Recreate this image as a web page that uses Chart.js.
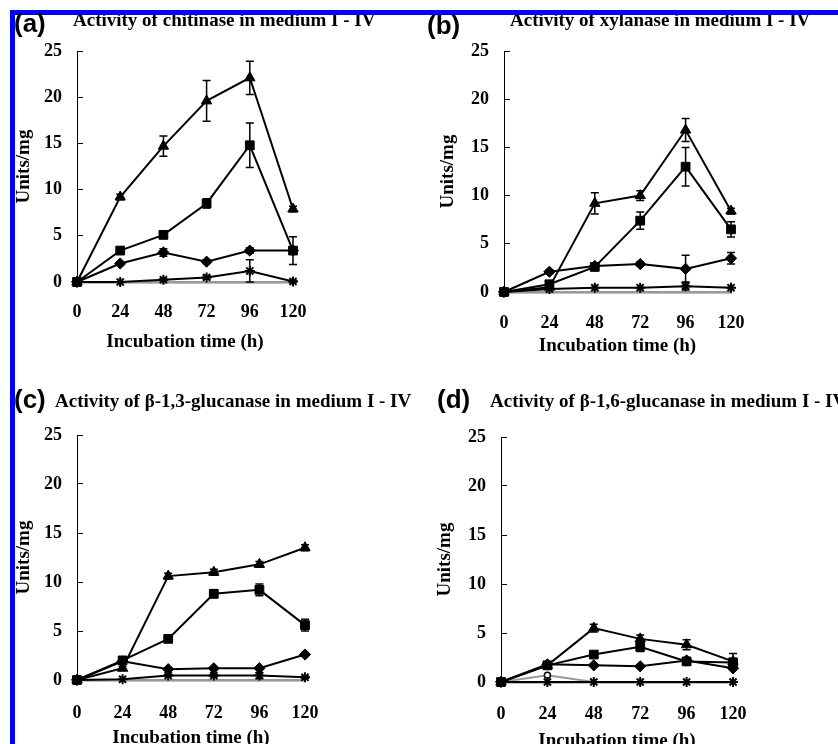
<!DOCTYPE html>
<html>
<head>
<meta charset="utf-8">
<script src="https://cdn.jsdelivr.net/npm/chart.js@4.4.0/dist/chart.umd.min.js"></script>
<style>
  body { margin: 0; width: 838px; height: 744px; overflow: hidden; background: #fff; position: relative; }
  canvas { position: absolute; }
  .tag { position: absolute; font: bold 26px "Liberation Sans", Arial, sans-serif; line-height: 1; color: #000; z-index: 3; }
  .ttl { position: absolute; font: bold 19px "Liberation Serif", "Times New Roman", serif; line-height: 1; white-space: nowrap; color: #000; z-index: 1; }
  .blue { position: absolute; background: #0000ff; z-index: 2; }
  #mask { position: absolute; left: 0; top: 0; width: 838px; height: 10px; background: #fff; z-index: 4; }
</style>
</head>
<body>
<canvas id="chartA" width="419" height="372" style="left:0;top:0"></canvas>
<canvas id="chartB" width="419" height="372" style="left:419px;top:0"></canvas>
<canvas id="chartC" width="419" height="400" style="left:0;top:372px"></canvas>
<canvas id="chartD" width="419" height="400" style="left:419px;top:372px"></canvas>

<div class="tag" style="left:14px;top:10px">(a)</div>
<div class="ttl" style="left:73px;top:10px">Activity of chitinase in medium I - IV</div>
<div class="tag" style="left:427px;top:12px">(b)</div>
<div class="ttl" style="left:510px;top:10px">Activity of xylanase in medium I - IV</div>
<div class="tag" style="left:14px;top:386px">(c)</div>
<div class="ttl" style="left:55px;top:391px">Activity of β-1,3-glucanase in medium I - IV</div>
<div class="tag" style="left:437px;top:386px">(d)</div>
<div class="ttl" style="left:490px;top:391px">Activity of β-1,6-glucanase in medium I - IV</div>

<div class="blue" style="left:10px;top:10px;width:828px;height:5px"></div>
<div class="blue" style="left:10px;top:10px;width:5px;height:734px"></div>
<div id="mask"></div>

<script>
// Tiempos de incubación y marcas del eje Y
const hours = [0, 24, 48, 72, 96, 120];
const yTicks = [0, 5, 10, 15, 20, 25];

// (a) quitinasa
const chitTri = [0, 9.2, 14.7, 19.6, 22.1, 7.9];
const chitTriErr = [0, 0.3, 1.1, 2.2, 1.8, 0.3];
const chitSq = [0, 3.4, 5.1, 8.5, 14.8, 3.4];
const chitSqErr = [0, 0.2, 0.2, 0.5, 2.4, 1.5];
const chitDia = [0, 2.0, 3.2, 2.2, 3.4, 3.4];
const chitDiaErr = [0, 0.2, 0.4, 0.2, 0.3, 0.3];
const chitStar = [0, 0, 0.25, 0.5, 1.2, 0.05];
const chitStarErr = [0, 0, 0.1, 0.2, 1.2, 0.1];
const chitCtrl = [0, 0, 0, 0, 0, 0];

// (b) xilanasa
const xylTri = [0, 0.5, 9.2, 10.0, 16.8, 8.4];
const xylTriErr = [0, 0.1, 1.1, 0.5, 1.2, 0.3];
const xylSq = [0, 0.8, 2.6, 7.4, 13.0, 6.5];
const xylSqErr = [0, 0.2, 0.3, 0.9, 2.0, 0.8];
const xylDia = [0, 2.1, 2.7, 2.9, 2.4, 3.5];
const xylDiaErr = [0, 0.2, 0.2, 0.2, 1.4, 0.6];
const xylStar = [0, 0.3, 0.45, 0.45, 0.6, 0.45];
const xylStarErr = [0, 0, 0, 0, 0.4, 0];
const xylCtrl = [0, 0, 0, 0, 0, 0];

// (c) beta-1,3-glucanasa
const g13Tri = [0, 1.2, 10.6, 11.0, 11.8, 13.5];
const g13TriErr = [0, 0.2, 0.3, 0.3, 0.3, 0.3];
const g13Sq = [0, 2.0, 4.2, 8.8, 9.2, 5.6];
const g13SqErr = [0, 0.2, 0.2, 0.4, 0.6, 0.6];
const g13Dia = [0, 1.9, 1.1, 1.2, 1.2, 2.6];
const g13DiaErr = [0, 0.1, 0.1, 0.1, 0.1, 0.2];
const g13Star = [0, 0.07, 0.45, 0.45, 0.45, 0.27];
const g13StarErr = [0, 0, 0.1, 0.1, 0.3, 0.1];
const g13Ctrl = [0, 0, 0, 0, 0, 0];

// (d) beta-1,6-glucanasa
const g16Tri = [0, 1.7, 5.5, 4.4, 3.8, 2.1];
const g16TriErr = [0, 0.3, 0.4, 0.4, 0.5, 0.8];
const g16Sq = [0, 1.7, 2.8, 3.6, 2.1, 2.0];
const g16SqErr = [0, 0.2, 0.2, 0.5, 0.3, 0.4];
const g16Dia = [0, 1.8, 1.7, 1.6, 2.2, 1.4];
const g16DiaErr = [0, 0.2, 0.1, 0.1, 0.2, 0.2];
const g16Star = [0, 0, 0, 0, 0, 0];
const g16StarErr = [0, 0, 0, 0, 0, 0];
const g16Ctrl = [0, 0.7, 0, 0, 0, 0];

const serif = "'Liberation Serif', 'Times New Roman', serif";

// Barras de error dibujadas con las escalas del gráfico
const errorBars = {
  id: "errorBars",
  afterDatasetsDraw(chart) {
    const ctx = chart.ctx;
    const xs = chart.scales.x;
    const ys = chart.scales.y;
    ctx.save();
    ctx.strokeStyle = "#000";
    ctx.lineWidth = 1.5;
    chart.data.datasets.forEach((ds) => {
      if (!ds.errors) return;
      ds.data.forEach((p, i) => {
        const e = ds.errors[i];
        if (!e) return;
        const x = xs.getPixelForValue(p.x);
        const y1 = ys.getPixelForValue(p.y + e);
        const y2 = ys.getPixelForValue(Math.max(p.y - e, 0));
        ctx.beginPath();
        ctx.moveTo(x, y1);
        ctx.lineTo(x, y2);
        ctx.moveTo(x - 4, y1);
        ctx.lineTo(x + 4, y1);
        ctx.moveTo(x - 4, y2);
        ctx.lineTo(x + 4, y2);
        ctx.stroke();
      });
    });
    ctx.restore();
  },
};

function series(values, errors, style, radius) {
  return {
    data: values.map((v, i) => ({ x: hours[i], y: v })),
    errors: errors,
    borderColor: "#000",
    backgroundColor: "#000",
    borderWidth: 2,
    pointStyle: style,
    pointRadius: radius,
    pointBorderWidth: style === "star" ? 2 : 1,
    pointBackgroundColor: "#000",
    pointBorderColor: "#000",
    tension: 0,
    clip: false,
  };
}

function ctrlSeries(values) {
  return {
    data: values.map((v, i) => ({ x: hours[i], y: v })),
    borderColor: "#999",
    borderWidth: 2,
    pointStyle: "circle",
    pointRadius: (c) => (c.raw && c.raw.y > 0 ? 3 : 0),
    pointBackgroundColor: "#fff",
    pointBorderColor: "#000",
    pointBorderWidth: 1.5,
    tension: 0,
    clip: false,
  };
}

// Crear un panel: area = posición del área de trazado dentro del canvas
function makePanel(id, sets, area) {
  const canvas = document.getElementById(id);
  const W = canvas.width;
  const H = canvas.height;
  return new Chart(canvas, {
    type: "line",
    data: { datasets: sets },
    plugins: [errorBars],
    options: {
      responsive: false,
      animation: false,
      layout: { padding: { left: 0, top: area.top, right: W - area.right, bottom: 0 } },
      plugins: { legend: { display: false }, tooltip: { enabled: false } },
      scales: {
        x: {
          type: "linear",
          min: 0,
          max: 120,
          afterBuildTicks: (s) => { s.ticks = hours.map((v) => ({ value: v })); },
          afterFit: (s) => { s.height = H - area.bottom; },
          grid: { display: true, drawOnChartArea: false, drawTicks: false },
          border: { color: "#808080", width: 2.5 },
          ticks: {
            color: "#000",
            font: { family: serif, size: 18, weight: "bold" },
            padding: area.xPad,
            maxRotation: 0,
            autoSkip: false,
          },
          title: {
            display: true,
            text: "Incubation time (h)",
            color: "#000",
            font: { family: serif, size: 19, weight: "bold" },
            padding: { top: 0, bottom: area.xTitlePad },
          },
        },
        y: {
          min: 0,
          max: 25,
          afterBuildTicks: (s) => { s.ticks = yTicks.map((v) => ({ value: v })); },
          afterFit: (s) => { s.width = area.left; },
          grid: { drawOnChartArea: false, drawTicks: true, tickLength: -6, color: "#000", lineWidth: 1 },
          border: { color: "#000", width: 1 },
          ticks: {
            color: "#000",
            font: { family: serif, size: 18, weight: "bold" },
            padding: 21,
          },
          title: {
            display: true,
            text: "Units/mg",
            color: "#000",
            font: { family: serif, size: 19, weight: "bold" },
            padding: { top: area.yTitlePad, bottom: 0 },
          },
        },
      },
    },
  });
}

makePanel("chartA", [
  series(chitTri, chitTriErr, "triangle", 6),
  series(chitSq, chitSqErr, "rect", 6.2),
  series(chitDia, chitDiaErr, "rectRot", 5.6),
  series(chitStar, chitStarErr, "star", 5),
  ctrlSeries(chitCtrl),
], { left: 77, right: 293, top: 51, bottom: 282, xPad: 20, xTitlePad: 18.6, yTitlePad: 12.6 });

makePanel("chartB", [
  series(xylTri, xylTriErr, "triangle", 6),
  series(xylSq, xylSqErr, "rect", 6.2),
  series(xylDia, xylDiaErr, "rectRot", 5.6),
  series(xylStar, xylStarErr, "star", 5),
  ctrlSeries(xylCtrl),
], { left: 85, right: 312, top: 51, bottom: 292, xPad: 20.5, xTitlePad: 14.1, yTitlePad: 17.6 });

makePanel("chartC", [
  series(g13Tri, g13TriErr, "triangle", 6),
  series(g13Sq, g13SqErr, "rect", 6.2),
  series(g13Dia, g13DiaErr, "rectRot", 5.6),
  series(g13Star, g13StarErr, "star", 5),
  ctrlSeries(g13Ctrl),
], { left: 77, right: 305, top: 63, bottom: 308, xPad: 22.5, xTitlePad: 22.1, yTitlePad: 12.6 });

makePanel("chartD", [
  series(g16Tri, g16TriErr, "triangle", 6),
  series(g16Sq, g16SqErr, "rect", 6.2),
  series(g16Dia, g16DiaErr, "rectRot", 5.6),
  series(g16Star, g16StarErr, "star", 5),
  ctrlSeries(g16Ctrl),
], { left: 82, right: 314, top: 65, bottom: 310, xPad: 21.5, xTitlePad: 19.9, yTitlePad: 14.6 });
</script>
</body>
</html>
